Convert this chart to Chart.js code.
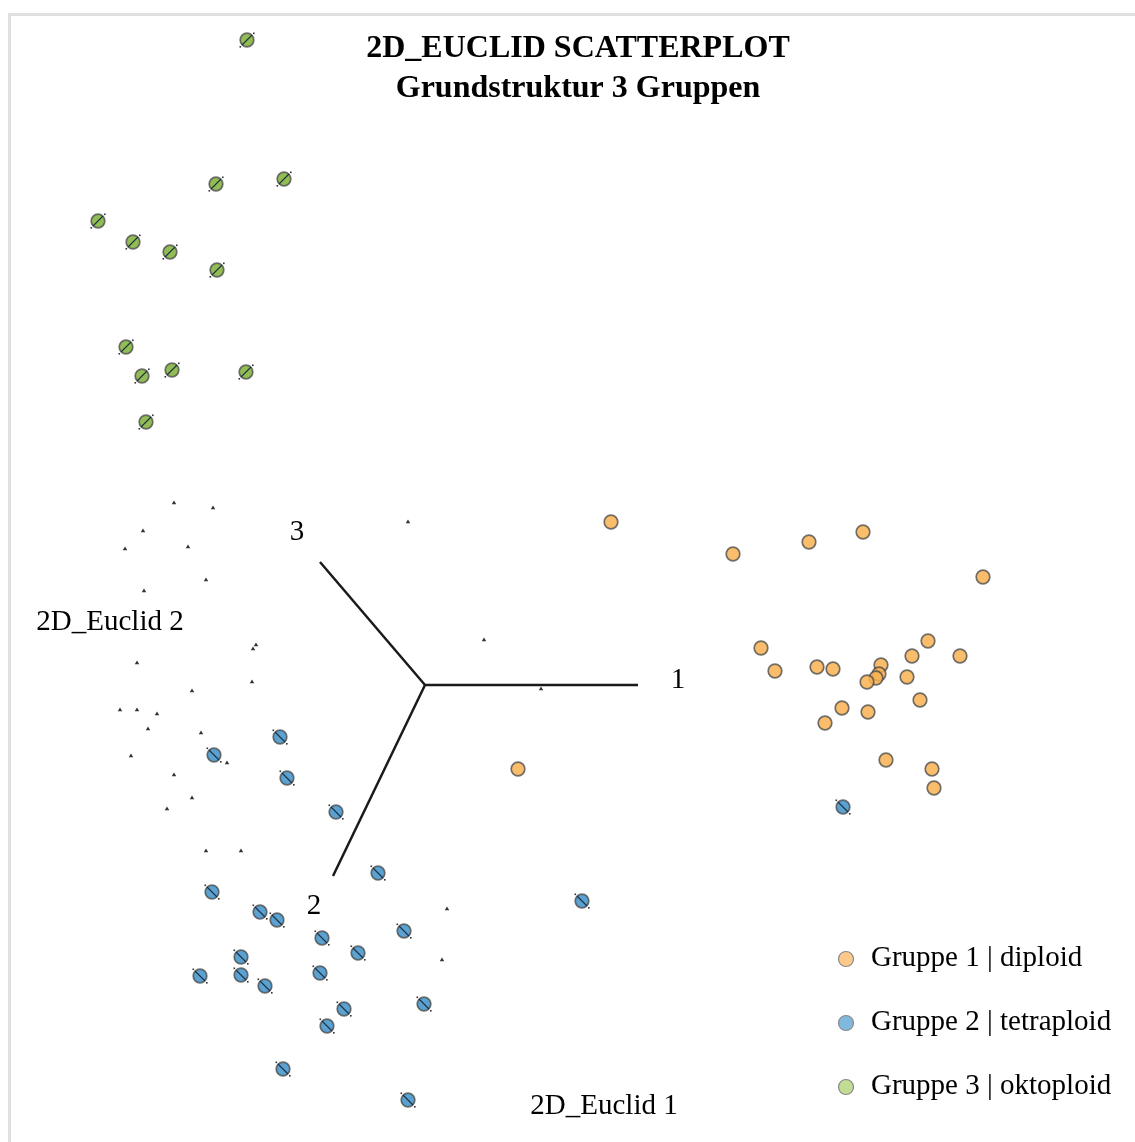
<!DOCTYPE html>
<html>
<head>
<meta charset="utf-8">
<script src="https://cdn.jsdelivr.net/npm/chart.js@4/dist/chart.umd.min.js"></script>
<style>
  html, body { margin: 0; padding: 0; background: #fff; }
  #wrap { width: 1135px; height: 1142px; }
</style>
</head>
<body>
<div id="wrap"><canvas id="chart" width="1135" height="1142"></canvas></div>
<script>
// 2D Euclid scatterplot, three groups plus unassigned samples and the three axis vectors
const groupLabels = ['Gruppe 1 | diploid', 'Gruppe 2 | tetraploid', 'Gruppe 3 | oktoploid'];

const g1X = [1.86, 3.08, 3.84, 4.38, 5.58, 3.36, 3.50, 3.92, 4.08, 4.56, 4.54, 4.51, 4.42, 4.87, 5.03, 5.35, 4.82, 4.95, 4.17, 4.43, 4.00, 4.61, 5.07, 5.09, 0.93];
const g1Y = [1.63, 1.31, 1.43, 1.53, 1.08, 0.37, 0.14, 0.18, 0.16, 0.20, 0.11, 0.07, 0.03, 0.29, 0.44, 0.29, 0.08, -0.15, -0.23, -0.27, -0.38, -0.75, -0.84, -1.03, -0.84];

const g2X = [-1.45, -2.11, -1.38, -0.89, -0.47, 1.57, 4.18, -2.13, -1.65, -1.48, -1.03, -0.21, -0.67, -1.84, -2.25, -1.84, -1.60, -1.05, -0.01, -0.81, -0.98, -1.42, -0.17];
const g2Y = [-0.52, -0.70, -0.93, -1.27, -1.88, -2.16, -1.22, -2.07, -2.27, -2.35, -2.53, -2.46, -2.68, -2.72, -2.91, -2.90, -3.01, -2.88, -3.19, -3.24, -3.41, -3.84, -4.15];

const g3X = [-1.78, -2.09, -1.41, -3.27, -2.92, -2.55, -2.08, -2.99, -2.83, -2.53, -1.79, -2.79];
const g3Y = [6.45, 5.01, 5.06, 4.64, 4.43, 4.33, 4.15, 3.38, 3.09, 3.15, 3.13, 2.63];

// unassigned samples (tiny marks)
const otherX = [-2.51, -2.12, -2.82, -3.00, -2.37, -2.19, -2.81, -0.17, 0.59, 1.16, -1.69, -1.72, -2.88, -1.73, -2.33, -3.05, -2.88, -2.68, -2.77, -2.24, -2.94, -1.98, -2.51, -2.33, -2.58, -2.19, -1.84, 0.22, 0.17];
const otherY = [1.82, 1.77, 1.54, 1.36, 1.38, 1.05, 0.94, 1.63, 0.45, -0.04, 0.40, 0.36, 0.22, 0.03, -0.06, -0.25, -0.25, -0.29, -0.44, -0.48, -0.71, -0.78, -0.90, -1.13, -1.24, -1.66, -1.66, -2.24, -2.75];

// axis vectors from the origin
const axisNames = ['1', '2', '3'];
const axisEndX = [2.13, -0.92, -1.05];
const axisEndY = [0.00, -1.91, 1.23];
const axisLabelX = [2.53, -1.11, -1.28];
const axisLabelY = [0.05, -2.21, 1.53];

function pts(xs, ys) { return xs.map((x, i) => ({ x: x, y: ys[i] })); }

// marker images: filled circle with a diagonal stroke
function marker(fill, slash) {
  const c = document.createElement('canvas');
  c.width = 22; c.height = 22;
  const g = c.getContext('2d');
  g.beginPath(); g.arc(11, 11, 6.8, 0, Math.PI * 2);
  g.fillStyle = fill; g.fill();
  g.lineWidth = 1.7; g.strokeStyle = 'rgba(70,70,70,0.75)'; g.stroke();
  if (slash) {
    g.strokeStyle = '#1f2f3f'; g.lineWidth = 1.1;
    g.beginPath();
    if (slash === '\\') { g.moveTo(6, 6); g.lineTo(16, 16); } else { g.moveTo(6, 16); g.lineTo(16, 6); }
    g.stroke();
    g.fillStyle = '#333';
    if (slash === '\\') { g.fillRect(3.5, 3.5, 1.6, 1.6); g.fillRect(17, 17, 1.6, 1.6); }
    else { g.fillRect(3.5, 17, 1.6, 1.6); g.fillRect(17, 3.5, 1.6, 1.6); }
  }
  return c;
}

const legendFill = ['#fdc98a', '#80b9dd', '#c2dc94'];

const decor = {
  id: 'decor',
  beforeDraw(chart) {
    const ctx = chart.ctx;
    ctx.save();
    ctx.strokeStyle = '#e0e0e0'; ctx.lineWidth = 3;
    ctx.strokeRect(9.5, 14.5, 1300, 1300);
    ctx.restore();
  },
  afterDraw(chart) {
    const ctx = chart.ctx, xs = chart.scales.x, ys = chart.scales.y;
    ctx.save();
    ctx.fillStyle = '#000';
    ctx.textAlign = 'center'; ctx.textBaseline = 'middle';
    ctx.font = 'bold 32px "Liberation Serif", "Times New Roman", serif';
    ctx.fillText('2D_EUCLID SCATTERPLOT', 578, 49);
    ctx.fillText('Grundstruktur 3 Gruppen', 578, 89);

    ctx.font = '29px "Liberation Serif", "Times New Roman", serif';
    axisNames.forEach((n, i) => {
      ctx.fillText(n, xs.getPixelForValue(axisLabelX[i]), ys.getPixelForValue(axisLabelY[i]));
    });
    ctx.fillText('2D_Euclid 1', 604, 1106);
    ctx.fillText('2D_Euclid 2', 110, 622);

    ctx.textAlign = 'left';
    ctx.font = '29px "Liberation Serif", "Times New Roman", serif';
    groupLabels.forEach((lab, i) => {
      const y = 958 + i * 64;
      ctx.beginPath(); ctx.arc(846, y + 1, 7.5, 0, Math.PI * 2);
      ctx.fillStyle = legendFill[i]; ctx.fill();
      ctx.lineWidth = 1.2; ctx.strokeStyle = '#8a8a8a'; ctx.stroke();
      ctx.fillStyle = '#000';
      ctx.fillText(lab, 871, y);
    });
    ctx.restore();
  }
};

const axisSets = axisNames.map((n, i) => ({
  label: 'axis ' + n,
  type: 'line',
  data: [{ x: 0, y: 0 }, { x: axisEndX[i], y: axisEndY[i] }],
  borderColor: '#1a1a1a', borderWidth: 2.5, pointRadius: 0, showLine: true, order: 5
}));

new Chart(document.getElementById('chart'), {
  type: 'scatter',
  data: {
    datasets: axisSets.concat([
      { label: 'other', data: pts(otherX, otherY), pointStyle: 'triangle', pointRadius: 2.6, backgroundColor: '#333', borderColor: '#333', borderWidth: 0, order: 4 },
      { label: groupLabels[0], data: pts(g1X, g1Y), pointStyle: marker('rgba(248,178,82,0.85)', null), order: 1 },
      { label: groupLabels[1], data: pts(g2X, g2Y), pointStyle: marker('#5aa2d2', '\\'), order: 2 },
      { label: groupLabels[2], data: pts(g3X, g3Y), pointStyle: marker('#92bd55', '/'), order: 3 }
    ])
  },
  options: {
    responsive: false, animation: false,
    layout: { padding: 0, autoPadding: false },
    scales: {
      x: { type: 'linear', min: -4.25, max: 7.10, display: false },
      y: { type: 'linear', min: -4.57, max: 6.85, display: false }
    },
    plugins: { legend: { display: false }, tooltip: { enabled: false } }
  },
  plugins: [decor]
});
</script>
</body>
</html>
